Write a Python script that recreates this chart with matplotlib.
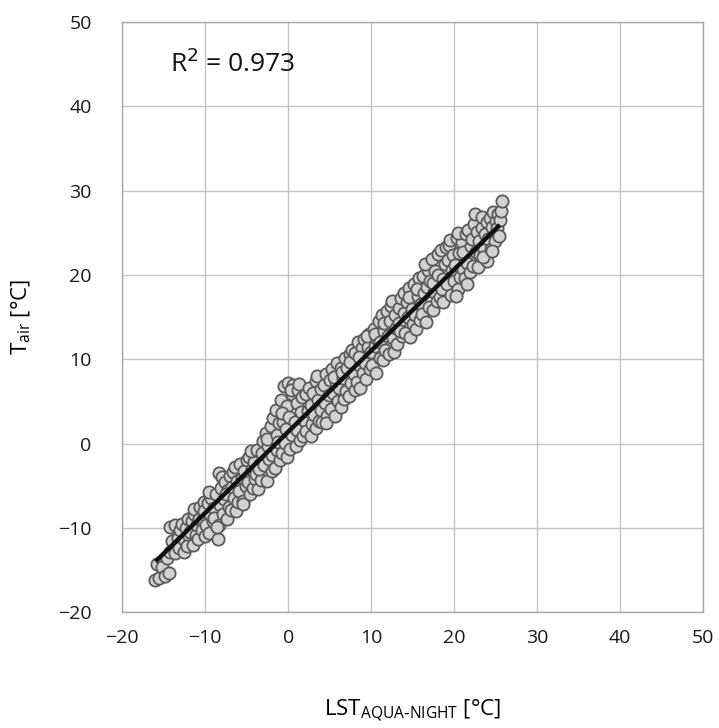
import numpy as np
import matplotlib
matplotlib.use("Agg")
import matplotlib.pyplot as plt

lst_night = [
    -16.0, -15.6, -15.8, -15.2, -14.8, -14.4,
    -14.6, -14.3, -14.2, -14.0, -13.7,
    -13.6, -13.3, -13.1, -13.0, -12.8,
    -12.6, -12.4, -12.3, -12.1, -12.0, -12.2,
    -11.8, -11.6, -11.5, -11.3, -11.1, -11.0, -11.4,
    -10.9, -10.7, -10.6, -10.4, -10.3, -10.1, -10.0, -10.2,
    -9.9, -9.7, -9.6, -9.4, -9.3, -9.1, -9.0, -9.5,
    -8.9, -8.7, -8.5, -8.4, -8.3, -8.2, -8.0, -8.1, -8.6,
    -7.9, -7.7, -7.6, -7.4, -7.3, -7.1, -7.0, -7.5,
    -6.9, -6.8, -6.6, -6.5, -6.3, -6.2, -6.0, -6.4,
    -5.9, -5.8, -5.6, -5.4, -5.3, -5.1, -5.0, -5.5,
    -4.9, -4.7, -4.6, -4.4, -4.3, -4.1, -4.0, -4.5,
    -3.9, -3.8, -3.6, -3.4, -3.3, -3.1, -3.0, -3.5,
    -2.9, -2.7, -2.6, -2.4, -2.3, -2.1, -2.0, -2.5,
    -1.9, -1.8, -1.6, -1.4, -1.3, -1.1, -1.0, -1.5, -1.2,
    -0.9, -0.8, -0.6, -0.5, -0.4, -0.2, -0.1, 0.0, -0.3, -0.7,
    0.1, 0.2, 0.4, 0.5, 0.6, 0.8, 0.9, 1.0, 0.3,
    1.1, 1.2, 1.4, 1.5, 1.7, 1.8, 2.0, 1.3,
    2.1, 2.2, 2.4, 2.5, 2.7, 2.8, 2.9, 3.0,
    3.1, 3.3, 3.4, 3.6, 3.7, 3.9, 4.0, 3.5,
    4.1, 4.3, 4.4, 4.6, 4.7, 4.9, 5.0, 4.5,
    5.1, 5.3, 5.4, 5.6, 5.7, 5.9, 6.0, 5.5,
    6.1, 6.3, 6.4, 6.6, 6.7, 6.9, 7.0, 6.5,
    7.1, 7.3, 7.4, 7.6, 7.7, 7.9, 8.0, 7.5,
    8.1, 8.3, 8.4, 8.6, 8.7, 8.9, 9.0, 8.5,
    9.1, 9.3, 9.4, 9.6, 9.7, 9.9, 10.0, 9.5,
    10.1, 10.3, 10.4, 10.6, 10.7, 10.9, 11.0, 10.5,
    11.1, 11.3, 11.4, 11.6, 11.7, 11.9, 12.0, 11.5,
    12.1, 12.3, 12.4, 12.6, 12.7, 12.9, 13.0, 12.5,
    13.1, 13.3, 13.4, 13.6, 13.7, 13.9, 14.0, 13.5,
    14.1, 14.3, 14.4, 14.6, 14.7, 14.9, 15.0, 14.5,
    15.1, 15.3, 15.4, 15.6, 15.7, 15.9, 16.0, 15.5,
    16.1, 16.3, 16.4, 16.6, 16.7, 16.9, 17.0, 16.5,
    17.1, 17.3, 17.4, 17.6, 17.7, 17.9, 18.0, 17.5,
    18.1, 18.3, 18.4, 18.6, 18.7, 18.9, 19.0, 18.5,
    19.1, 19.3, 19.4, 19.6, 19.7, 19.9, 20.0, 19.5,
    20.1, 20.3, 20.4, 20.6, 20.7, 20.9, 21.0, 20.5, 20.2,
    21.1, 21.3, 21.4, 21.6, 21.7, 21.9, 22.0, 21.5,
    22.1, 22.3, 22.4, 22.6, 22.7, 22.9, 23.0, 22.5,
    23.1, 23.3, 23.4, 23.6, 23.7, 23.9, 24.0, 23.5,
    24.1, 24.3, 24.4, 24.6, 24.7, 24.9, 25.0, 24.5,
    25.2, 25.3, 25.5, 25.6, 25.7, 25.4,
]

t_air = [
    -16.2, -15.9, -14.3, -14.6, -15.7, -15.3,
    -13.6, -12.8, -9.9, -11.6, -13.0,
    -9.6, -11.2, -12.4, -10.3, -9.5,
    -12.8, -11.6, -10.0, -8.9, -11.0, -12.2,
    -10.5, -9.2, -12.0, -8.3, -10.8, -9.6, -7.8,
    -11.3, -8.9, -7.5, -10.2, -9.0, -6.9, -11.0, -8.0,
    -9.6, -7.1, -10.6, -8.4, -6.5, -9.2, -7.6, -5.8,
    -8.8, -6.0, -11.3, -3.5, -9.6, -7.3, -4.0, -5.3, -9.9,
    -8.3, -6.6, -4.6, -9.0, -5.5, -7.5, -3.8, -6.0,
    -7.9, -5.2, -3.4, -6.4, -8.0, -4.4, -6.9, -2.8,
    -5.6, -2.4, -4.1, -6.8, -3.2, -5.0, -1.9, -7.2,
    -4.5, -1.6, -6.0, -3.0, -5.3, -2.2, -4.2, -0.9,
    -3.6, -0.8, -5.4, -2.4, -4.3, -1.1, 0.3, -3.0,
    -2.5, 1.2, -4.4, -0.3, -1.8, 2.1, -3.3, 0.5,
    -1.4, 3.0, -2.9, 1.0, -0.8, 2.4, -2.0, 4.0, 0.2,
    5.2, -1.1, 2.6, 6.8, 0.1, 4.4, -1.6, 7.2, 1.7, 3.6,
    3.2, -0.7, 5.9, 1.0, 7.0, 2.6, -0.3, 4.8, 6.4,
    1.6, 6.3, 0.4, 3.7, 5.5, 0.9, 2.7, 7.1,
    5.9, 1.5, 3.9, 6.6, 0.9, 4.6, 2.3, 6.0,
    3.4, 7.4, 1.8, 5.2, 2.7, 6.5, 4.0, 8.0,
    2.6, 6.9, 4.8, 8.2, 3.3, 5.8, 7.5, 2.4,
    4.1, 8.8, 6.0, 3.3, 7.3, 9.5, 5.0, 7.9,
    6.6, 4.3, 9.0, 7.8, 5.3, 10.1, 6.2, 8.5,
    8.9, 5.6, 10.6, 7.2, 11.1, 8.3, 6.4, 9.7,
    10.7, 7.3, 12.0, 9.2, 6.6, 11.3, 8.4, 10.3,
    12.4, 9.6, 7.6, 11.5, 13.0, 8.8, 10.8, 12.7,
    9.3, 13.6, 11.6, 8.4, 12.4, 14.5, 10.2, 13.0,
    12.0, 15.3, 9.9, 13.4, 11.1, 15.7, 12.7, 14.3,
    10.6, 14.5, 16.3, 12.5, 10.9, 15.2, 13.7, 16.9,
    11.8, 16.1, 14.3, 17.3, 12.7, 15.5, 17.9, 13.4,
    13.1, 16.8, 15.0, 18.4, 12.6, 16.0, 14.2, 17.4,
    18.9, 15.2, 13.6, 17.5, 19.6, 14.7, 16.6, 18.3,
    15.4, 19.9, 17.8, 14.4, 18.6, 20.6, 16.2, 21.3,
    19.3, 21.9, 15.8, 18.0, 20.4, 16.9, 22.5, 19.0,
    20.0, 17.4, 22.9, 19.5, 16.8, 21.3, 23.3, 18.3,
    18.9, 21.8, 23.6, 17.6, 20.6, 22.4, 19.3, 24.1,
    21.2, 24.4, 18.3, 22.6, 19.8, 23.9, 20.7, 25.0, 17.5,
    22.7, 19.6, 24.8, 21.4, 25.3, 20.3, 23.4, 18.9,
    24.2, 21.0, 26.0, 22.7, 25.1, 20.9, 24.0, 27.2,
    22.4, 25.6, 26.9, 23.0, 24.9, 21.6, 26.3, 22.1,
    24.3, 26.8, 23.1, 25.7, 27.4, 24.0, 26.4, 22.8,
    25.5, 27.2, 26.5, 27.6, 28.8, 24.6,
]

# Linear trend line
trend_slope = 0.962
trend_intercept = 1.4

r2_label = "R$^2$ = 0.973"
x_ticks = [-20, -10, 0, 10, 20, 30, 40, 50]
y_ticks = [-20, -10, 0, 10, 20, 30, 40, 50]

plt.rcParams['font.family'] = ['Open Sans', 'DejaVu Sans']

fig = plt.figure(figsize=(7.19, 7.28), dpi=100)
ax = fig.add_axes([0.170, 0.159, 0.808, 0.811])

x = np.array(lst_night)
y = np.array(t_air)

ax.scatter(x, y, s=78, facecolor='#d2d2d2', edgecolor='#5a5a5a',
           linewidths=1.3, zorder=3)

xl = np.array([x.min(), x.max() - 0.2])
ax.plot(xl, trend_slope * xl + trend_intercept, color='#111111', lw=3.2,
        zorder=4, solid_capstyle='butt')

ax.set_xlim(-20, 50)
ax.set_ylim(-20, 50)
ax.set_xticks(x_ticks)
ax.set_yticks(y_ticks)
ax.grid(True, color='#c4c4c4', lw=1.0, zorder=0)
ax.set_axisbelow(True)
for sp in ax.spines.values():
    sp.set_color('#a8a8a8')
    sp.set_linewidth(1.0)
ax.tick_params(axis='x', length=0, labelsize=14, colors='#1a1a1a', pad=12)
ax.tick_params(axis='y', length=0, labelsize=14, colors='#1a1a1a', pad=22)

ax.text(-14.2, 45, r2_label, fontsize=19, color='#111111', va='center', ha='left')

ax.set_xlabel(r"LST$_{\mathregular{AQUA\text{-}NIGHT}}$ [°C]", fontsize=16, labelpad=36)
ax.set_ylabel(r"T$_{\mathregular{air}}$ [°C]", fontsize=16, labelpad=18)

fig.savefig("out.png", dpi=100)
